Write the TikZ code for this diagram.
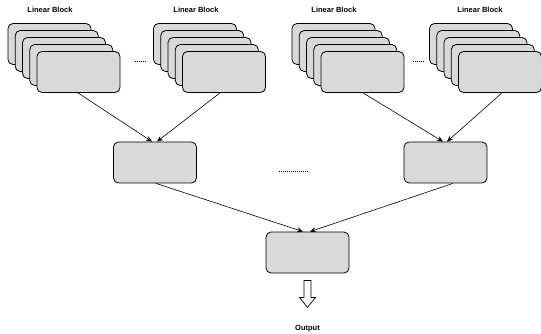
\documentclass[tikz,border=0pt]{standalone}
\usepackage{fontspec}
\setmainfont{Liberation Sans}
\usepackage{xcolor}
\usetikzlibrary{arrows.meta}

\begin{document}
\begin{tikzpicture}[x=1pt, y=-1pt,
    card/.style={rectangle, rounded corners=5pt, draw, line width=0.8pt, fill=black!15, minimum width=83pt, minimum height=41pt, inner sep=0pt},
    title/.style={font=\bfseries\fontsize{7.5}{8.5}\selectfont, inner sep=1pt},
    link/.style={-{Stealth[length=6pt, width=5pt]}, line width=0.6pt},
    gapdots/.style={line width=0.6pt, dash pattern=on 0.9pt off 1.1pt}]

    \useasboundingbox (0,0) rectangle (541,334);

    % stacks of linear blocks
    \foreach \name/\cx/\lx in {s1/78.5/50, s2/224/196, s3/362.5/334, s4/500/480} {
        \node[title] at (\lx,10) {Linear Block};
        \foreach \k in {4,3,2,1}
            \node[card] at (\cx-7.25*\k, 72-7*\k) {};
        \node[card] (\name) at (\cx,72) {};
    }
    \draw[gapdots] (135,61) -- (147,61);
    \draw[gapdots] (413,61) -- (425,61);

    % merge layer
    \node[card] (m1) at (155,162.5) {};
    \node[card] (m2) at (445.5,162.5) {};
    \draw[gapdots] (279,171) -- (308,171);

    \node[card] (out) at (307.5,252.5) {};

    \draw[link] ([xshift=-0.5pt]s1.south) -- ([xshift=-3pt]m1.north);
    \draw[link] ([xshift=-4pt]s2.south) -- ([xshift=2pt]m1.north);
    \draw[link] ([xshift=0.5pt]s3.south) -- ([xshift=-2.5pt]m2.north);
    \draw[link] ([xshift=2pt]s4.south) -- ([xshift=1.5pt]m2.north);
    \draw[link] ([xshift=1pt]m1.south) -- ([xshift=-4.5pt]out.north);
    \draw[link] ([xshift=7.5pt]m2.south) -- ([xshift=2.5pt]out.north);

    % hollow output arrow
    \draw[line width=0.7pt, line join=miter]
        ([xshift=-3.5pt, yshift=-7pt]out.south) -- ++(0,17) -- ++(-4.5,0)
        -- ++(8,10) -- ++(8,-10) -- ++(-4.5,0) -- ++(0,-17) -- cycle;
    \node[title] (output) at (307.5,329) {Output};

\end{tikzpicture}
\end{document}
